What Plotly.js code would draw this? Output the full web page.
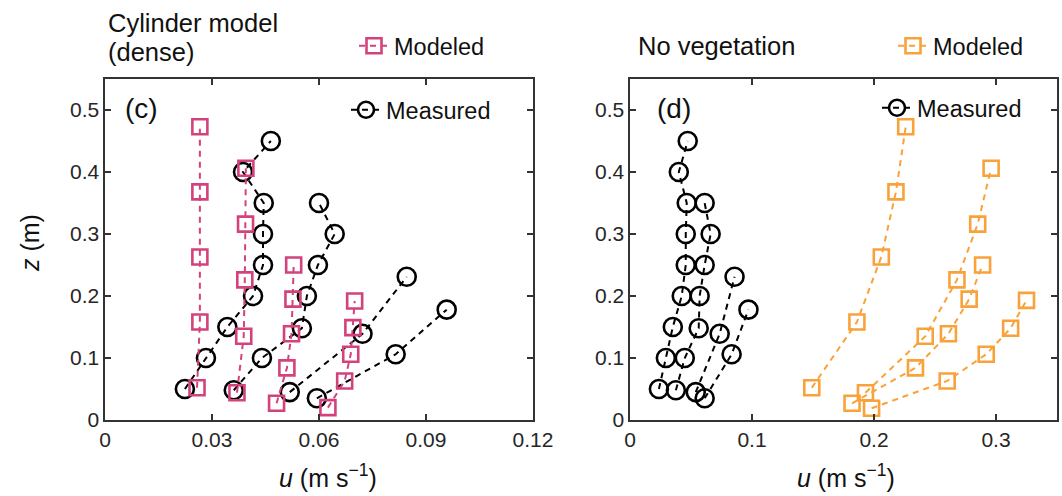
<!DOCTYPE html>
<html>
<head>
<meta charset="utf-8">
<script src="https://cdn.plot.ly/plotly-3.0.1.min.js"></script>
<style>html,body{margin:0;padding:0;background:#fff;}#chart{width:1062px;height:496px;}</style>
</head>
<body>
<div id="chart"></div>
<script>
// ---------- Panel (c): Cylinder model (dense) ----------
const cMeas1_u = [0.0224, 0.0283, 0.0343, 0.0415, 0.0443, 0.0443, 0.0445, 0.0387, 0.0465];
const cMeas1_z = [0.05, 0.10, 0.15, 0.20, 0.25, 0.30, 0.35, 0.40, 0.45];
const cMeas2_u = [0.0361, 0.0440, 0.0552, 0.0566, 0.0597, 0.0644, 0.0600];
const cMeas2_z = [0.048, 0.10, 0.148, 0.20, 0.25, 0.30, 0.35];
const cMeas3_u = [0.0518, 0.0722, 0.0846];
const cMeas3_z = [0.045, 0.139, 0.231];
const cMeas4_u = [0.0594, 0.0815, 0.0958];
const cMeas4_z = [0.035, 0.106, 0.178];

const cMod1_u = [0.0258, 0.0266, 0.0266, 0.0266, 0.0266];
const cMod1_z = [0.052, 0.158, 0.263, 0.368, 0.473];
const cMod2_u = [0.0370, 0.0389, 0.0392, 0.0394, 0.0395];
const cMod2_z = [0.044, 0.135, 0.226, 0.316, 0.406];
const cMod3_u = [0.0481, 0.0510, 0.0523, 0.0527, 0.0529];
const cMod3_z = [0.027, 0.084, 0.139, 0.195, 0.250];
const cMod4_u = [0.0625, 0.0672, 0.0689, 0.0695, 0.0700];
const cMod4_z = [0.020, 0.063, 0.106, 0.149, 0.192];

// ---------- Panel (d): No vegetation ----------
const dMeas1_u = [0.0237, 0.0294, 0.0351, 0.0424, 0.0457, 0.0457, 0.0465, 0.0400, 0.0473];
const dMeas1_z = [0.05, 0.10, 0.15, 0.20, 0.25, 0.30, 0.35, 0.40, 0.45];
const dMeas2_u = [0.0376, 0.0449, 0.0563, 0.0571, 0.0612, 0.0661, 0.0612];
const dMeas2_z = [0.048, 0.10, 0.148, 0.20, 0.25, 0.30, 0.35];
const dMeas3_u = [0.0539, 0.0735, 0.0857];
const dMeas3_z = [0.045, 0.139, 0.231];
const dMeas4_u = [0.0612, 0.0833, 0.0971];
const dMeas4_z = [0.035, 0.106, 0.178];

const dMod1_u = [0.149, 0.186, 0.206, 0.218, 0.226];
const dMod1_z = [0.052, 0.158, 0.263, 0.368, 0.473];
const dMod2_u = [0.193, 0.242, 0.268, 0.285, 0.296];
const dMod2_z = [0.044, 0.135, 0.226, 0.316, 0.406];
const dMod3_u = [0.182, 0.234, 0.261, 0.278, 0.289];
const dMod3_z = [0.027, 0.084, 0.139, 0.195, 0.250];
const dMod4_u = [0.198, 0.260, 0.292, 0.312, 0.325];
const dMod4_z = [0.019, 0.063, 0.106, 0.148, 0.193];

// tick labels
const cXTicks = [0, 0.03, 0.06, 0.09, 0.12];
const cXTickText = ['0', '0.03', '0.06', '0.09', '0.12'];
const dXTicks = [0, 0.1, 0.2, 0.3];
const dXTickText = ['0', '0.1', '0.2', '0.3'];
const zTicks = [0, 0.1, 0.2, 0.3, 0.4, 0.5];
const zTickText = ['0', '0.1', '0.2', '0.3', '0.4', '0.5'];

const PINK = '#D3427C';
const ORANGE = '#F9A23A';
const FONT = 'Liberation Sans, Arial, sans-serif';

function meas(u, z, xa, ya, leg, show) {
  return {
    x: u, y: z, xaxis: xa, yaxis: ya, type: 'scatter', mode: 'lines+markers',
    name: 'Measured', legend: leg, showlegend: show, hoverinfo: 'x+y',
    line: {color: '#000', width: 2, dash: '6px,5px'},
    marker: {symbol: 'circle-open', size: 18, color: '#000', line: {width: 2.6, color: '#000'}}
  };
}
function mod(u, z, xa, ya, leg, show, col) {
  return {
    x: u, y: z, xaxis: xa, yaxis: ya, type: 'scatter', mode: 'lines+markers',
    name: 'Modeled', legend: leg, showlegend: show, hoverinfo: 'x+y',
    line: {color: col, width: 2, dash: '6px,5px'},
    marker: {symbol: 'square-open', size: 15, color: col, line: {width: 2.6, color: col}}
  };
}

const data = [
  meas(cMeas1_u, cMeas1_z, 'x', 'y', 'legend2', true),
  meas(cMeas2_u, cMeas2_z, 'x', 'y', 'legend2', false),
  meas(cMeas3_u, cMeas3_z, 'x', 'y', 'legend2', false),
  meas(cMeas4_u, cMeas4_z, 'x', 'y', 'legend2', false),
  mod(cMod1_u, cMod1_z, 'x', 'y', 'legend', true, PINK),
  mod(cMod2_u, cMod2_z, 'x', 'y', 'legend', false, PINK),
  mod(cMod3_u, cMod3_z, 'x', 'y', 'legend', false, PINK),
  mod(cMod4_u, cMod4_z, 'x', 'y', 'legend', false, PINK),
  meas(dMeas1_u, dMeas1_z, 'x2', 'y2', 'legend4', true),
  meas(dMeas2_u, dMeas2_z, 'x2', 'y2', 'legend4', false),
  meas(dMeas3_u, dMeas3_z, 'x2', 'y2', 'legend4', false),
  meas(dMeas4_u, dMeas4_z, 'x2', 'y2', 'legend4', false),
  mod(dMod1_u, dMod1_z, 'x2', 'y2', 'legend3', true, ORANGE),
  mod(dMod2_u, dMod2_z, 'x2', 'y2', 'legend3', false, ORANGE),
  mod(dMod3_u, dMod3_z, 'x2', 'y2', 'legend3', false, ORANGE),
  mod(dMod4_u, dMod4_z, 'x2', 'y2', 'legend3', false, ORANGE)
];

const W = 1062, H = 496;
const px = v => v / W;
const py = v => (H - v) / H;

const axisCommon = {
  showline: true, linecolor: '#333', linewidth: 1.6, mirror: 'ticks',
  ticks: 'inside', ticklen: 6, tickwidth: 1.3, tickcolor: '#333',
  showgrid: false, zeroline: false, automargin: false,
  tickfont: {family: FONT, size: 21, color: '#262626'}
};

function legendAt(x, yc) {
  return {
    x: px(x), y: py(yc), xanchor: 'left', yanchor: 'middle',
    bgcolor: 'rgba(0,0,0,0)', borderwidth: 0, itemwidth: 30,
    font: {family: FONT, size: 23.5, color: '#111'}
  };
}

function label(text, x, yc, size, extra) {
  return Object.assign({text: text, xref: 'paper', yref: 'paper', x: px(x), y: py(yc),
    xanchor: 'left', yanchor: 'middle', showarrow: false,
    font: {family: FONT, size: size, color: '#111'}}, extra || {});
}

const layout = {
  width: W, height: H,
  margin: {l: 0, r: 0, t: 0, b: 0},
  paper_bgcolor: '#fff', plot_bgcolor: '#fff',
  font: {family: FONT},
  xaxis: Object.assign({}, axisCommon, {domain: [px(105), px(533)], range: [0, 0.12], tickvals: cXTicks, ticktext: cXTickText, anchor: 'y'}),
  yaxis: Object.assign({}, axisCommon, {domain: [py(420), py(79)], range: [0, 0.55], tickvals: zTicks, ticktext: zTickText, anchor: 'x'}),
  xaxis2: Object.assign({}, axisCommon, {domain: [px(630), px(1057)], range: [0, 0.35], tickvals: dXTicks, ticktext: dXTickText, anchor: 'y2'}),
  yaxis2: Object.assign({}, axisCommon, {domain: [py(420), py(79)], range: [0, 0.55], tickvals: zTicks, ticktext: zTickText, anchor: 'x2'}),
  legend: legendAt(354, 46),
  legend2: legendAt(346, 110),
  legend3: legendAt(893, 46),
  legend4: legendAt(877, 108),
  showlegend: true,
  annotations: [
    label('Cylinder model', 106, 23, 25.5),
    label('(dense)', 106, 52, 25.5),
    label('No vegetation', 636, 46, 25.5),
    label('(c)', 123, 108, 28),
    label('(d)', 655, 108, 28),
    label('<i>u</i> (m s<sup>−1</sup>)', 328, 476, 25, {xanchor: 'center'}),
    label('<i>u</i> (m s<sup>−1</sup>)', 846, 476, 25, {xanchor: 'center'}),
    label('<i>z</i> (m)', 30, 243, 25, {xanchor: 'center', textangle: -90})
  ]
};

Plotly.newPlot('chart', data, layout, {displayModeBar: false, staticPlot: true});
</script>
</body>
</html>
